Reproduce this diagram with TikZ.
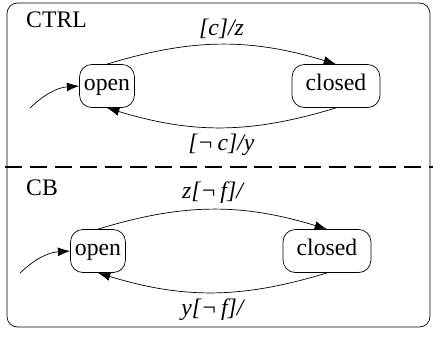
\documentclass[tikz,border=0pt]{standalone}
\usepackage{fontspec}
\setmainfont{Liberation Serif}
\usepackage{tikz}
\usetikzlibrary{arrows.meta}

\begin{document}
\begin{tikzpicture}[x=0.02cm,y=-0.02cm,
  every node/.style={font=\fontsize{13.5}{16}\selectfont},
  state/.style={draw,rounded corners=7pt,inner xsep=2.5pt,inner ysep=2pt,
    minimum height=24.5pt,text height=1.55ex,text depth=.45ex},
  trans/.style={-{Latex[length=7pt,width=5pt]},thin},
  lbl/.style={font=\fontsize{13.5}{16}\selectfont\itshape}]
\useasboundingbox (0,0) rectangle (433,336);
\draw [rounded corners=6pt] (7,3) rectangle (430,327);
\draw [line width=1.1pt,dash pattern=on 9.7pt off 4.5pt] (5,167) -- (433,167);

% CTRL region
\node [anchor=west] (ctrl) at (20,20) {CTRL};
\node [state] (open1) at (107,86) {open};
\node [state,minimum width=50pt] (closed1) at (336,86) {closed};
\coordinate (init1) at (30,108);
\draw [trans] (init1) to [bend left=20] (open1.west);
\draw [trans] (open1.north) to [bend left=17]
  node [lbl,above=0pt] {[c]/z} (closed1.north);
\draw [trans] (closed1.south) to [bend left=17]
  node [lbl,below=0pt] {[¬\,c]/y} (open1.south);

% CB region
\node [anchor=west] (cb) at (20,188) {CB};
\node [state] (open2) at (98,251) {open};
\node [state,minimum width=50pt] (closed2) at (327,251) {closed};
\coordinate (init2) at (20,273);
\draw [trans] (init2) to [bend left=20] (open2.west);
\draw [trans] (open2.north) to [bend left=17]
  node [lbl,above=0pt] {z[¬\,f]/} (closed2.north);
\draw [trans] (closed2.south) to [bend left=17]
  node [lbl,below=0pt] {y[¬\,f]/} (open2.south);
\end{tikzpicture}
\end{document}
